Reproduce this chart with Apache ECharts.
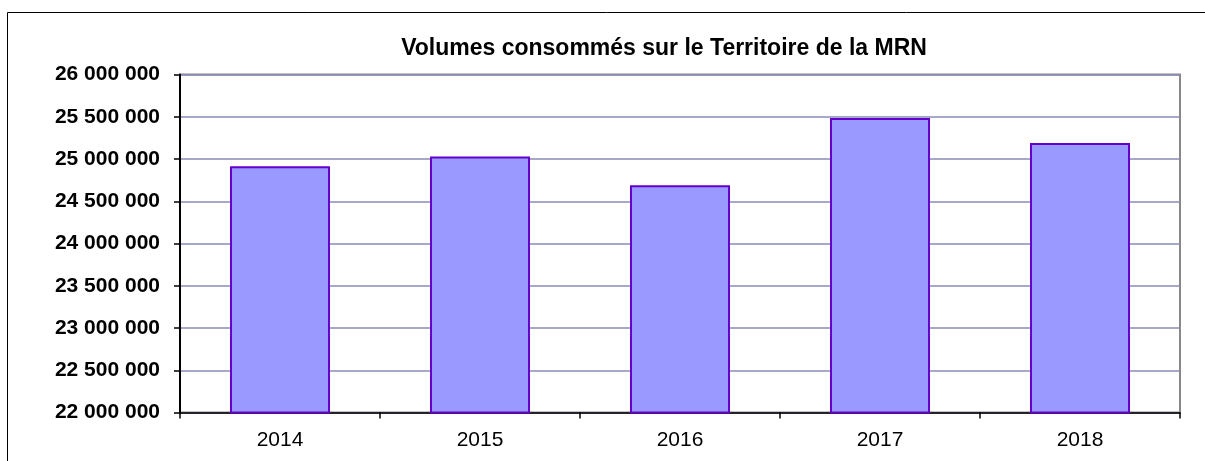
<!DOCTYPE html>
<html>
<head>
<meta charset="utf-8">
<script src="https://cdn.jsdelivr.net/npm/echarts@6/dist/echarts.min.js"></script>
<style>
  html, body { margin: 0; padding: 0; background: #fff; }
  #chart { width: 1205px; height: 461px; }
</style>
</head>
<body>
<div id="chart"></div>
<script>
const years = ['2014', '2015', '2016', '2017', '2018']
const volumes = [24915000, 25030000, 24690000, 25485000, 25190000]
const yMin = 22000000
const yMax = 26000000
const yStep = 500000

function fmt(v) {
  return String(v).replace(/\B(?=(\d{3})+(?!\d))/g, ' ')
}

const chart = echarts.init(document.getElementById('chart'))
chart.setOption({
  backgroundColor: '#fff',
  animation: false,
  title: {
    text: 'Volumes consommés sur le Territoire de la MRN',
    left: 659,
    top: 32,
    textAlign: 'center',
    textStyle: { fontFamily: 'Liberation Sans, Arial', fontWeight: 'bold', fontSize: 23, color: '#000' },
  },
  graphic: [{
    type: 'rect',
    shape: { x: 7.5, y: 12.5, width: 1400, height: 600 },
    style: { fill: 'none', stroke: '#000', lineWidth: 1 },
    silent: true,
  }],
  grid: {
    left: 180, right: 25, top: 74.5, bottom: 48.5,
    show: true, borderColor: '#888', borderWidth: 2, backgroundColor: 'transparent',
  },
  xAxis: {
    type: 'category',
    data: years,
    axisLine: { lineStyle: { color: '#000', width: 1.5 } },
    axisTick: { show: true, length: 6, lineStyle: { color: '#000', width: 1.5 } },
    axisLabel: { color: '#000', fontFamily: 'Liberation Sans, Arial', fontSize: 21, margin: 17 },
  },
  yAxis: {
    type: 'value',
    min: yMin,
    max: yMax,
    interval: yStep,
    axisLine: { show: true, lineStyle: { color: '#000', width: 2 } },
    axisTick: { show: true, length: 6, lineStyle: { color: '#000', width: 1.5 } },
    axisLabel: {
      color: '#000', fontFamily: 'Liberation Sans, Arial', fontWeight: 'bold', fontSize: 21, margin: 20,
      formatter: fmt,
    },
    splitLine: { show: true, lineStyle: { color: '#8a8ab8', width: 1.5 } },
  },
  series: [{
    type: 'bar',
    data: volumes,
    barWidth: '50%',
    itemStyle: { color: '#9999ff', borderColor: '#6600cc', borderWidth: 2 },
  }],
})
</script>
</body>
</html>
